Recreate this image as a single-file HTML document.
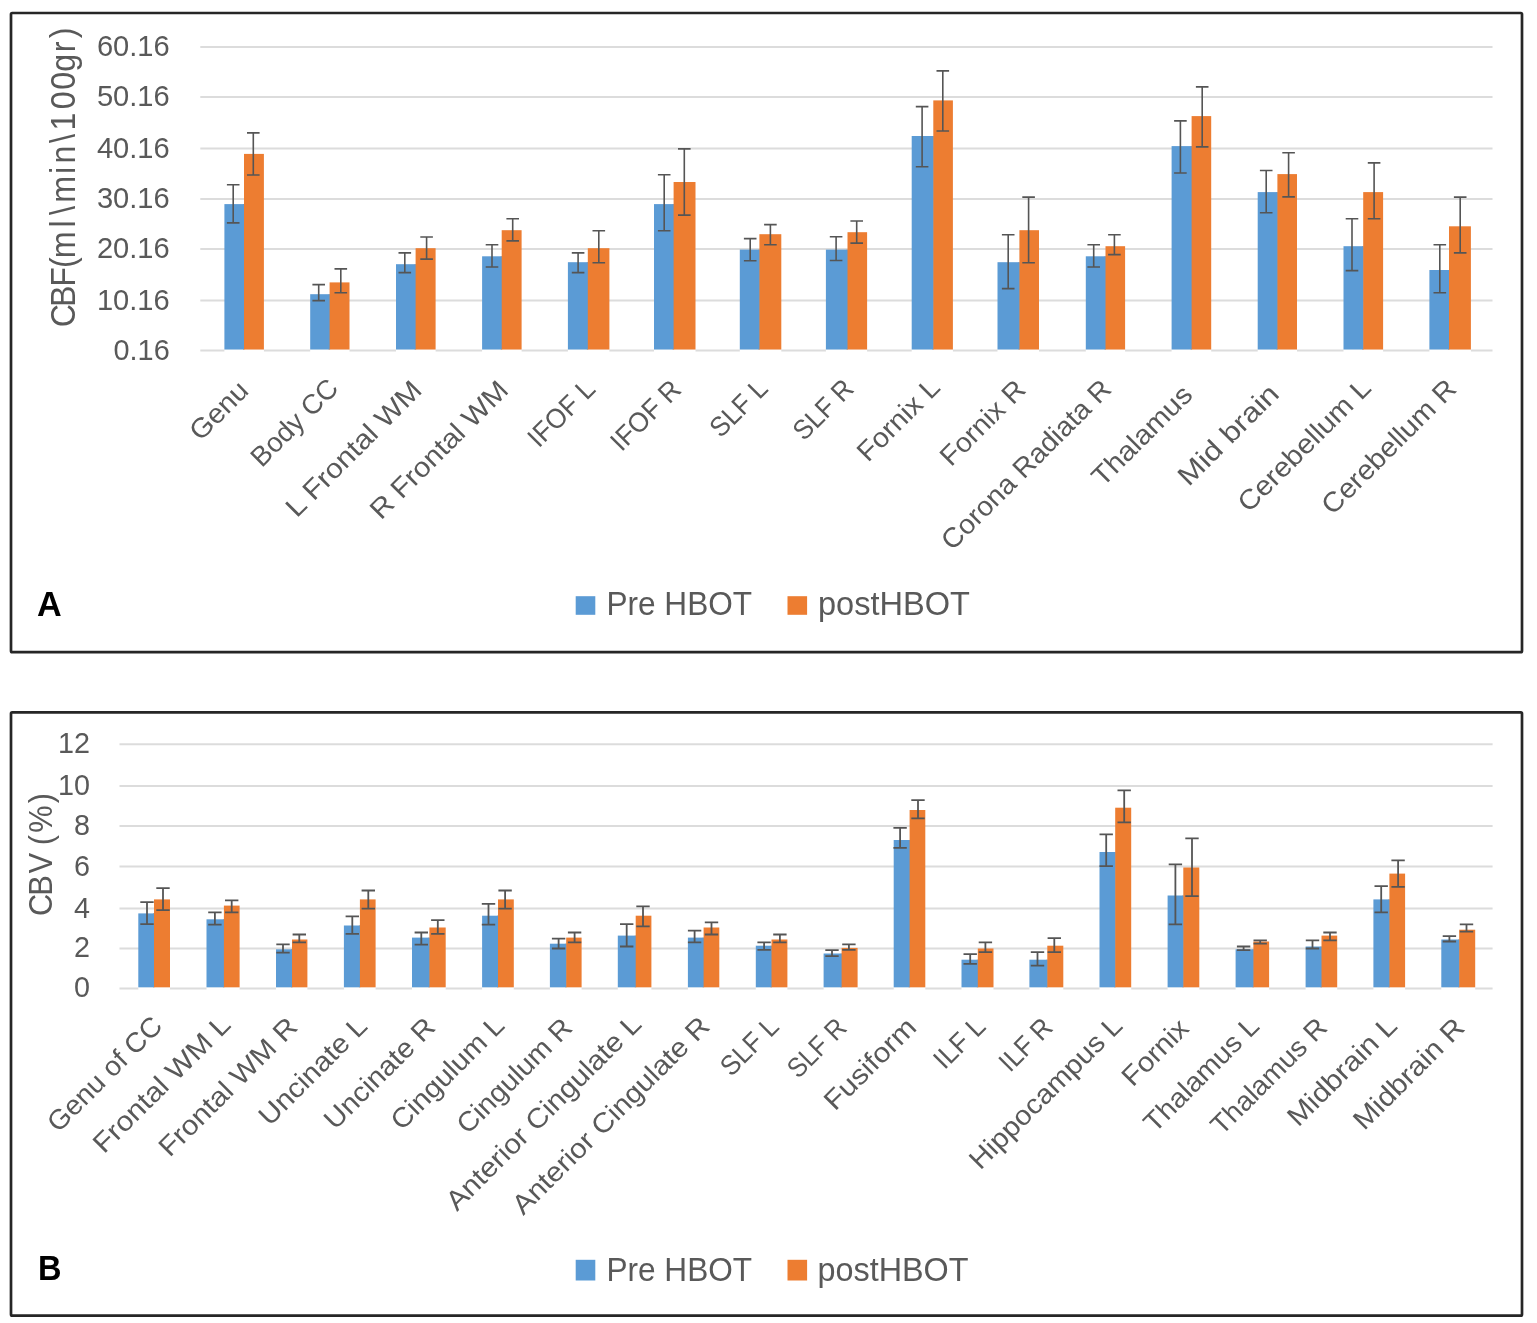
<!DOCTYPE html>
<html lang="en"><head><meta charset="utf-8"><title>CBF and CBV pre and post HBOT</title>
<style>
html,body{margin:0;padding:0;background:#fff;}
body{width:1537px;height:1323px;overflow:hidden;}
svg{display:block;}
text{font-family:'Liberation Sans', sans-serif;fill:#595959;}
.grid line{stroke:#DCDCDC;stroke-width:2.0;}
.ticks text{text-anchor:end;}
.b{fill:#5B9BD5;}.o{fill:#ED7D31;}
.err path{stroke:#555555;fill:none;}
.xl text{text-anchor:end;}
.frame{fill:none;stroke:#262626;stroke-width:2.7;stroke-linejoin:round;}
.panel{font-weight:bold;fill:#000;}
</style></head><body>
<svg width="1537" height="1323" viewBox="0 0 1537 1323">
<rect width="1537" height="1323" fill="#fff"/>
<g id="chartA" font-size="29.5">
<g class="grid">
<line x1="200.3" y1="47" x2="1492.5" y2="47"/>
<line x1="200.3" y1="97" x2="1492.5" y2="97"/>
<line x1="200.3" y1="148.5" x2="1492.5" y2="148.5"/>
<line x1="200.3" y1="199" x2="1492.5" y2="199"/>
<line x1="200.3" y1="249" x2="1492.5" y2="249"/>
<line x1="200.3" y1="300.5" x2="1492.5" y2="300.5"/>
<line x1="200.3" y1="350.5" x2="1492.5" y2="350.5"/>
</g>
<g class="ticks">
<text x="169.7" y="56" textLength="72.8" lengthAdjust="spacingAndGlyphs">60.16</text>
<text x="169.7" y="106" textLength="72.8" lengthAdjust="spacingAndGlyphs">50.16</text>
<text x="169.7" y="157.5" textLength="72.8" lengthAdjust="spacingAndGlyphs">40.16</text>
<text x="169.7" y="208" textLength="72.8" lengthAdjust="spacingAndGlyphs">30.16</text>
<text x="169.7" y="258" textLength="72.8" lengthAdjust="spacingAndGlyphs">20.16</text>
<text x="169.7" y="309.5" textLength="72.8" lengthAdjust="spacingAndGlyphs">10.16</text>
<text x="169.7" y="359.5" textLength="56.2" lengthAdjust="spacingAndGlyphs">0.16</text>
</g>
<g class="bars">
<rect fill="#fff" x="224.4" y="349.5" width="39.5" height="2.6"/>
<rect class="o" x="244" y="153.9" width="19.9" height="195.6"/>
<rect class="o" x="243" y="204.1" width="1.5" height="145.4"/>
<rect class="b" x="224.4" y="204.1" width="19.6" height="145.4"/>
<rect fill="#fff" x="310.2" y="349.5" width="39.3" height="2.6"/>
<rect class="o" x="329.6" y="282.4" width="19.9" height="67.1"/>
<rect class="o" x="328.6" y="294.2" width="1.5" height="55.3"/>
<rect class="b" x="310.2" y="294.2" width="19.4" height="55.3"/>
<rect fill="#fff" x="396" y="349.5" width="39.6" height="2.6"/>
<rect class="o" x="415.6" y="248.2" width="20" height="101.3"/>
<rect class="o" x="414.6" y="264.2" width="1.5" height="85.3"/>
<rect class="b" x="396" y="264.2" width="19.6" height="85.3"/>
<rect fill="#fff" x="482.1" y="349.5" width="39.5" height="2.6"/>
<rect class="o" x="501.7" y="230.2" width="19.9" height="119.3"/>
<rect class="o" x="500.7" y="256.3" width="1.5" height="93.2"/>
<rect class="b" x="482.1" y="256.3" width="19.6" height="93.2"/>
<rect fill="#fff" x="567.9" y="349.5" width="41.5" height="2.6"/>
<rect class="o" x="587.8" y="248.2" width="21.6" height="101.3"/>
<rect class="o" x="586.8" y="262.2" width="1.5" height="87.3"/>
<rect class="b" x="567.9" y="262.2" width="19.9" height="87.3"/>
<rect fill="#fff" x="654" y="349.5" width="41.5" height="2.6"/>
<rect class="o" x="673.6" y="182" width="21.9" height="167.5"/>
<rect class="o" x="672.6" y="204.1" width="1.5" height="145.4"/>
<rect class="b" x="654" y="204.1" width="19.6" height="145.4"/>
<rect fill="#fff" x="739.8" y="349.5" width="41.5" height="2.6"/>
<rect class="o" x="759.4" y="234.2" width="21.9" height="115.3"/>
<rect class="o" x="758.4" y="249.6" width="1.5" height="99.9"/>
<rect class="b" x="739.8" y="249.6" width="19.6" height="99.9"/>
<rect fill="#fff" x="825.9" y="349.5" width="41.2" height="2.6"/>
<rect class="o" x="847.5" y="232.2" width="19.6" height="117.3"/>
<rect class="o" x="846.5" y="249.6" width="1.5" height="99.9"/>
<rect class="b" x="825.9" y="249.6" width="21.6" height="99.9"/>
<rect fill="#fff" x="911.7" y="349.5" width="41.2" height="2.6"/>
<rect class="o" x="933.3" y="100.4" width="19.6" height="249.1"/>
<rect class="o" x="932.3" y="136" width="1.5" height="213.5"/>
<rect class="b" x="911.7" y="136" width="21.6" height="213.5"/>
<rect fill="#fff" x="997.5" y="349.5" width="41.5" height="2.6"/>
<rect class="o" x="1019.4" y="230.2" width="19.6" height="119.3"/>
<rect class="o" x="1018.4" y="262.2" width="1.5" height="87.3"/>
<rect class="b" x="997.5" y="262.2" width="21.9" height="87.3"/>
<rect fill="#fff" x="1085.8" y="349.5" width="39.3" height="2.6"/>
<rect class="o" x="1105.5" y="246.2" width="19.6" height="103.3"/>
<rect class="o" x="1104.5" y="256.3" width="1.5" height="93.2"/>
<rect class="b" x="1085.8" y="256.3" width="19.7" height="93.2"/>
<rect fill="#fff" x="1171.6" y="349.5" width="39.6" height="2.6"/>
<rect class="o" x="1191.6" y="116.1" width="19.6" height="233.4"/>
<rect class="o" x="1190.6" y="146.1" width="1.5" height="203.4"/>
<rect class="b" x="1171.6" y="146.1" width="20" height="203.4"/>
<rect fill="#fff" x="1257.7" y="349.5" width="39.3" height="2.6"/>
<rect class="o" x="1277.4" y="174.1" width="19.6" height="175.4"/>
<rect class="o" x="1276.4" y="192.1" width="1.5" height="157.4"/>
<rect class="b" x="1257.7" y="192.1" width="19.7" height="157.4"/>
<rect fill="#fff" x="1343.5" y="349.5" width="39.6" height="2.6"/>
<rect class="o" x="1363.2" y="192.1" width="19.9" height="157.4"/>
<rect class="o" x="1362.2" y="246.2" width="1.5" height="103.3"/>
<rect class="b" x="1343.5" y="246.2" width="19.7" height="103.3"/>
<rect fill="#fff" x="1429.4" y="349.5" width="41.5" height="2.6"/>
<rect class="o" x="1449" y="226.3" width="21.9" height="123.2"/>
<rect class="o" x="1448" y="270" width="1.5" height="79.5"/>
<rect class="b" x="1429.4" y="270" width="19.6" height="79.5"/>
</g>
<g class="err" stroke-width="1.6">
<path d="M226.9 184.8H239.5M233.2 184.8V222.9M226.9 222.9H239.5"/>
<path d="M247 132.9H259.6M253.3 132.9V175M247 175H259.6"/>
<path d="M312.4 284.6H325M318.7 284.6V300.6M312.4 300.6H325"/>
<path d="M334.5 268.9H347.1M340.8 268.9V292.8M334.5 292.8H347.1"/>
<path d="M398.5 252.9H411.1M404.8 252.9V272.6M398.5 272.6H411.1"/>
<path d="M420.3 237H432.9M426.6 237V259.1M420.3 259.1H432.9"/>
<path d="M485.7 244.8H498.3M492 244.8V267M485.7 267H498.3"/>
<path d="M506.4 218.7H519M512.7 218.7V240.9M506.4 240.9H519"/>
<path d="M571.8 252.9H584.4M578.1 252.9V272.6M571.8 272.6H584.4"/>
<path d="M592.5 230.8H605.1M598.8 230.8V262.8M592.5 262.8H605.1"/>
<path d="M657.9 174.7H670.5M664.2 174.7V230.8M657.9 230.8H670.5"/>
<path d="M678 148.9H690.6M684.3 148.9V215.1M678 215.1H690.6"/>
<path d="M743.9 238.6H756.5M750.2 238.6V260.8M743.9 260.8H756.5"/>
<path d="M764.1 224.6H776.7M770.4 224.6V244.8M764.1 244.8H776.7"/>
<path d="M829.8 236.7H842.4M836.1 236.7V260.5M829.8 260.5H842.4"/>
<path d="M850.4 221H863M856.7 221V243.1M850.4 243.1H863"/>
<path d="M915.8 106.6H928.4M922.1 106.6V166.8M915.8 166.8H928.4"/>
<path d="M936.5 70.9H949.1M942.8 70.9V131M936.5 131H949.1"/>
<path d="M1001.9 234.7H1014.5M1008.2 234.7V288.6M1001.9 288.6H1014.5"/>
<path d="M1022.3 197.1H1034.9M1028.6 197.1V262.8M1022.3 262.8H1034.9"/>
<path d="M1087.4 244.8H1100M1093.7 244.8V267M1087.4 267H1100"/>
<path d="M1108.1 234.7H1120.7M1114.4 234.7V254.6M1108.1 254.6H1120.7"/>
<path d="M1174.1 120.9H1186.7M1180.4 120.9V173M1174.1 173H1186.7"/>
<path d="M1195.9 86.9H1208.5M1202.2 86.9V146.9M1195.9 146.9H1208.5"/>
<path d="M1259.9 170.5H1272.5M1266.2 170.5V212.8M1259.9 212.8H1272.5"/>
<path d="M1282.3 152.8H1294.9M1288.6 152.8V196.9M1282.3 196.9H1294.9"/>
<path d="M1345.7 218.7H1358.3M1352 218.7V270.6M1345.7 270.6H1358.3"/>
<path d="M1367.8 162.9H1380.4M1374.1 162.9V218.7M1367.8 218.7H1380.4"/>
<path d="M1433.5 244.8H1446.1M1439.8 244.8V292.8M1433.5 292.8H1446.1"/>
<path d="M1453.9 197.1H1466.5M1460.2 197.1V252.9M1453.9 252.9H1466.5"/>
</g>
<g class="xl" font-size="27.5">
<text transform="translate(250.2 392.25) rotate(-45)" textLength="70.46" lengthAdjust="spacingAndGlyphs">Genu</text>
<text transform="translate(339.95 389.85) rotate(-45)" textLength="110.75" lengthAdjust="spacingAndGlyphs">Body CC</text>
<text transform="translate(423.5 391.85) rotate(-45)" textLength="179.22" lengthAdjust="spacingAndGlyphs">L Frontal WM</text>
<text transform="translate(510.05 391.7) rotate(-45)" textLength="182.68" lengthAdjust="spacingAndGlyphs">R Frontal WM</text>
<text transform="translate(596.85 390.75) rotate(-45)" textLength="82.03" lengthAdjust="spacingAndGlyphs">IFOF L</text>
<text transform="translate(682.75 391.25) rotate(-45)" textLength="86.61" lengthAdjust="spacingAndGlyphs">IFOF R</text>
<text transform="translate(769.4 390.15) rotate(-45)" textLength="68.78" lengthAdjust="spacingAndGlyphs">SLF L</text>
<text transform="translate(855.2 390.6) rotate(-45)" textLength="72.28" lengthAdjust="spacingAndGlyphs">SLF R</text>
<text transform="translate(941.65 389.15) rotate(-45)" textLength="104.29" lengthAdjust="spacingAndGlyphs">Fornix L</text>
<text transform="translate(1027.3 391.25) rotate(-45)" textLength="107.8" lengthAdjust="spacingAndGlyphs">Fornix R</text>
<text transform="translate(1112.95 390.75) rotate(-45)" textLength="227.2" lengthAdjust="spacingAndGlyphs">Corona Radiata R</text>
<text transform="translate(1194.05 396.45) rotate(-45)" textLength="129.24" lengthAdjust="spacingAndGlyphs">Thalamus</text>
<text transform="translate(1280.55 395.5) rotate(-45)" textLength="129.73" lengthAdjust="spacingAndGlyphs">Mid brain</text>
<text transform="translate(1372.6 389.65) rotate(-45)" textLength="175.23" lengthAdjust="spacingAndGlyphs">Cerebellum L</text>
<text transform="translate(1458 390.5) rotate(-45)" textLength="177.32" lengthAdjust="spacingAndGlyphs">Cerebellum R</text>
</g>
<text class="ytitle" font-size="35" text-anchor="middle" x="9.13 30.16 51.2 66.74 86.09 108.7 123.37 146.36 166.85 184.08 201.68 219.95 243.04 264.35 284.02 301.3 316.52" y="0" transform="translate(74.5 324) rotate(-90) scale(0.92 1.0)">CBF(ml\min\100gr)</text>
<g class="legend" font-size="33">
<rect class="b" x="575.7" y="596.2" width="19.6" height="18.6"/>
<text x="606.4" y="614.8" textLength="145.7" lengthAdjust="spacingAndGlyphs">Pre HBOT</text>
<rect class="o" x="787.5" y="596.2" width="19.6" height="18.6"/>
<text x="818" y="614.8" textLength="151.9" lengthAdjust="spacingAndGlyphs">postHBOT</text>
</g>
<text class="panel" x="37" y="615.8" font-size="34.2">A</text>
</g>
<g id="chartB" font-size="29.5">
<g class="grid">
<line x1="119.5" y1="744.2" x2="1492.6" y2="744.2"/>
<line x1="119.5" y1="786" x2="1492.6" y2="786"/>
<line x1="119.5" y1="826" x2="1492.6" y2="826"/>
<line x1="119.5" y1="866.6" x2="1492.6" y2="866.6"/>
<line x1="119.5" y1="908.6" x2="1492.6" y2="908.6"/>
<line x1="119.5" y1="948.5" x2="1492.6" y2="948.5"/>
<line x1="119.5" y1="988.4" x2="1492.6" y2="988.4"/>
</g>
<g class="ticks">
<text x="90" y="753.1" textLength="32" lengthAdjust="spacingAndGlyphs">12</text>
<text x="90" y="794.9" textLength="32" lengthAdjust="spacingAndGlyphs">10</text>
<text x="90" y="834.9" textLength="16" lengthAdjust="spacingAndGlyphs">8</text>
<text x="90" y="875.5" textLength="16" lengthAdjust="spacingAndGlyphs">6</text>
<text x="90" y="917.5" textLength="16" lengthAdjust="spacingAndGlyphs">4</text>
<text x="90" y="957.4" textLength="16" lengthAdjust="spacingAndGlyphs">2</text>
<text x="90" y="997.3" textLength="16" lengthAdjust="spacingAndGlyphs">0</text>
</g>
<g class="bars">
<rect fill="#fff" x="138.3" y="987.3" width="31.7" height="2.6"/>
<rect class="o" x="154" y="899.4" width="16" height="87.9"/>
<rect class="o" x="153" y="913.4" width="1.5" height="73.9"/>
<rect class="b" x="138.3" y="913.4" width="15.7" height="73.9"/>
<rect fill="#fff" x="206.5" y="987.3" width="33.1" height="2.6"/>
<rect class="o" x="223.9" y="905.6" width="15.7" height="81.7"/>
<rect class="o" x="222.9" y="919.3" width="1.5" height="68"/>
<rect class="b" x="206.5" y="919.3" width="17.4" height="68"/>
<rect fill="#fff" x="276" y="987.3" width="31.4" height="2.6"/>
<rect class="o" x="292" y="939.5" width="15.4" height="47.8"/>
<rect class="o" x="291" y="949.3" width="1.5" height="38"/>
<rect class="b" x="276" y="949.3" width="16" height="38"/>
<rect fill="#fff" x="343.9" y="987.3" width="31.7" height="2.6"/>
<rect class="o" x="359.9" y="899.4" width="15.7" height="87.9"/>
<rect class="o" x="358.9" y="925.5" width="1.5" height="61.8"/>
<rect class="b" x="343.9" y="925.5" width="16" height="61.8"/>
<rect fill="#fff" x="412" y="987.3" width="33.7" height="2.6"/>
<rect class="o" x="429.4" y="927.5" width="16.3" height="59.8"/>
<rect class="o" x="428.4" y="937.6" width="1.5" height="49.7"/>
<rect class="b" x="412" y="937.6" width="17.4" height="49.7"/>
<rect fill="#fff" x="482.1" y="987.3" width="31.7" height="2.6"/>
<rect class="o" x="498" y="899.4" width="15.8" height="87.9"/>
<rect class="o" x="497" y="915.7" width="1.5" height="71.6"/>
<rect class="b" x="482.1" y="915.7" width="15.9" height="71.6"/>
<rect fill="#fff" x="549.9" y="987.3" width="31.7" height="2.6"/>
<rect class="o" x="566.2" y="937.6" width="15.4" height="49.7"/>
<rect class="o" x="565.2" y="943.7" width="1.5" height="43.6"/>
<rect class="b" x="549.9" y="943.7" width="16.3" height="43.6"/>
<rect fill="#fff" x="617.8" y="987.3" width="33.6" height="2.6"/>
<rect class="o" x="635.7" y="915.7" width="15.7" height="71.6"/>
<rect class="o" x="634.7" y="935.6" width="1.5" height="51.7"/>
<rect class="b" x="617.8" y="935.6" width="17.9" height="51.7"/>
<rect fill="#fff" x="687.9" y="987.3" width="31.4" height="2.6"/>
<rect class="o" x="703.6" y="927.5" width="15.7" height="59.8"/>
<rect class="o" x="702.6" y="937.6" width="1.5" height="49.7"/>
<rect class="b" x="687.9" y="937.6" width="15.7" height="49.7"/>
<rect fill="#fff" x="755.8" y="987.3" width="31.6" height="2.6"/>
<rect class="o" x="771.5" y="939.5" width="15.9" height="47.8"/>
<rect class="o" x="770.5" y="945.7" width="1.5" height="41.6"/>
<rect class="b" x="755.8" y="945.7" width="15.7" height="41.6"/>
<rect fill="#fff" x="823.6" y="987.3" width="34" height="2.6"/>
<rect class="o" x="841.6" y="947.9" width="16" height="39.4"/>
<rect class="o" x="840.6" y="953.5" width="1.5" height="33.8"/>
<rect class="b" x="823.6" y="953.5" width="18" height="33.8"/>
<rect fill="#fff" x="893.7" y="987.3" width="31.6" height="2.6"/>
<rect class="o" x="909.6" y="810" width="15.7" height="177.3"/>
<rect class="o" x="908.6" y="840" width="1.5" height="147.3"/>
<rect class="b" x="893.7" y="840" width="15.9" height="147.3"/>
<rect fill="#fff" x="961.5" y="987.3" width="32" height="2.6"/>
<rect class="o" x="977.8" y="948.5" width="15.7" height="38.8"/>
<rect class="o" x="976.8" y="959.7" width="1.5" height="27.6"/>
<rect class="b" x="961.5" y="959.7" width="16.3" height="27.6"/>
<rect fill="#fff" x="1029.4" y="987.3" width="33.9" height="2.6"/>
<rect class="o" x="1047.3" y="945.7" width="16" height="41.6"/>
<rect class="o" x="1046.3" y="959.7" width="1.5" height="27.6"/>
<rect class="b" x="1029.4" y="959.7" width="17.9" height="27.6"/>
<rect fill="#fff" x="1099.5" y="987.3" width="31.7" height="2.6"/>
<rect class="o" x="1115.2" y="807.7" width="16" height="179.6"/>
<rect class="o" x="1114.2" y="852" width="1.5" height="135.3"/>
<rect class="b" x="1099.5" y="852" width="15.7" height="135.3"/>
<rect fill="#fff" x="1167.6" y="987.3" width="31.7" height="2.6"/>
<rect class="o" x="1183.3" y="867.5" width="16" height="119.8"/>
<rect class="o" x="1182.3" y="895.5" width="1.5" height="91.8"/>
<rect class="b" x="1167.6" y="895.5" width="15.7" height="91.8"/>
<rect fill="#fff" x="1235.6" y="987.3" width="33.5" height="2.6"/>
<rect class="o" x="1253.4" y="941.5" width="15.7" height="45.8"/>
<rect class="o" x="1252.4" y="949.3" width="1.5" height="38"/>
<rect class="b" x="1235.6" y="949.3" width="17.8" height="38"/>
<rect fill="#fff" x="1305.6" y="987.3" width="31.6" height="2.6"/>
<rect class="o" x="1321.5" y="935.6" width="15.7" height="51.7"/>
<rect class="o" x="1320.5" y="946.5" width="1.5" height="40.8"/>
<rect class="b" x="1305.6" y="946.5" width="15.9" height="40.8"/>
<rect fill="#fff" x="1373.4" y="987.3" width="31.7" height="2.6"/>
<rect class="o" x="1389.4" y="873.6" width="15.7" height="113.7"/>
<rect class="o" x="1388.4" y="899.4" width="1.5" height="87.9"/>
<rect class="b" x="1373.4" y="899.4" width="16" height="87.9"/>
<rect fill="#fff" x="1441.3" y="987.3" width="33.9" height="2.6"/>
<rect class="o" x="1459.2" y="929.7" width="16" height="57.6"/>
<rect class="o" x="1458.2" y="939.5" width="1.5" height="47.8"/>
<rect class="b" x="1441.3" y="939.5" width="17.9" height="47.8"/>
</g>
<g class="err" stroke-width="1.8">
<path d="M140.3 902.2H153.7M147 902.2V924.1M140.3 924.1H153.7"/>
<path d="M156.3 888.2H169.7M163 888.2V910.1M156.3 910.1H169.7"/>
<path d="M208.2 912.3H221.6M214.9 912.3V924.7M208.2 924.7H221.6"/>
<path d="M225 900.3H238.4M231.7 900.3V912.3M225 912.3H238.4"/>
<path d="M276.3 944.3H289.7M283 944.3V952.7M276.3 952.7H289.7"/>
<path d="M292.6 934.5H306M299.3 934.5V942.3M292.6 942.3H306"/>
<path d="M345.6 916.3H359M352.3 916.3V933.9M345.6 933.9H359"/>
<path d="M361.6 890.5H375M368.3 890.5V908.7M361.6 908.7H375"/>
<path d="M414.6 932.5H428M421.3 932.5V944.6M414.6 944.6H428"/>
<path d="M431.1 920.2H444.5M437.8 920.2V933.9M431.1 933.9H444.5"/>
<path d="M481.8 903.9H495.2M488.5 903.9V924.7M481.8 924.7H495.2"/>
<path d="M498.4 890.5H511.8M505.1 890.5V908.7M498.4 908.7H511.8"/>
<path d="M551.9 938.7H565.3M558.6 938.7V948.5M551.9 948.5H565.3"/>
<path d="M567.9 932.5H581.3M574.6 932.5V942.3M567.9 942.3H581.3"/>
<path d="M620 924.1H633.4M626.7 924.1V946.5M620 946.5H633.4"/>
<path d="M636.3 906.4H649.7M643 906.4V926.3M636.3 926.3H649.7"/>
<path d="M687.9 930.6H701.3M694.6 930.6V942.3M687.9 942.3H701.3"/>
<path d="M704.8 922.4H718.2M711.5 922.4V934.5M704.8 934.5H718.2"/>
<path d="M757.4 942.3H770.8M764.1 942.3V949.9M757.4 949.9H770.8"/>
<path d="M773.2 934.5H786.6M779.9 934.5V942.3M773.2 942.3H786.6"/>
<path d="M825.3 950.2H838.7M832 950.2V956.1M825.3 956.1H838.7"/>
<path d="M842.2 944.3H855.6M848.9 944.3V949.9M842.2 949.9H855.6"/>
<path d="M893.4 827.9H906.8M900.1 827.9V847.8M893.4 847.8H906.8"/>
<path d="M911.3 800.2H924.7M918 800.2V818.4M911.3 818.4H924.7"/>
<path d="M963.5 954.1H976.9M970.2 954.1V963.9M963.5 963.9H976.9"/>
<path d="M978.7 942.3H992.1M985.4 942.3V952.1M978.7 952.1H992.1"/>
<path d="M1030.8 952.1H1044.2M1037.5 952.1V965.6M1030.8 965.6H1044.2"/>
<path d="M1047.6 938.1H1061M1054.3 938.1V952.1M1047.6 952.1H1061"/>
<path d="M1099.5 834.4H1112.9M1106.2 834.4V866.1M1099.5 866.1H1112.9"/>
<path d="M1117.5 790.3H1130.9M1124.2 790.3V822.3M1117.5 822.3H1130.9"/>
<path d="M1168.7 864.4H1182.1M1175.4 864.4V924.4M1168.7 924.4H1182.1"/>
<path d="M1185.3 838.3H1198.7M1192 838.3V896.1M1185.3 896.1H1198.7"/>
<path d="M1236.9 946.5H1250.3M1243.6 946.5V950.2M1236.9 950.2H1250.3"/>
<path d="M1253.5 940.4H1266.9M1260.2 940.4V943.7M1253.5 943.7H1266.9"/>
<path d="M1305.8 940.4H1319.2M1312.5 940.4V948.5M1305.8 948.5H1319.2"/>
<path d="M1323.3 932.5H1336.7M1330 932.5V940.4M1323.3 940.4H1336.7"/>
<path d="M1374.5 886.2H1387.9M1381.2 886.2V912.3M1374.5 912.3H1387.9"/>
<path d="M1391.4 860.4H1404.8M1398.1 860.4V886.8M1391.4 886.8H1404.8"/>
<path d="M1442.7 936.2H1456.1M1449.4 936.2V941.5M1442.7 941.5H1456.1"/>
<path d="M1459.8 924.4H1473.2M1466.5 924.4V931.7M1459.8 931.7H1473.2"/>
</g>
<g class="xl" font-size="27.5">
<text transform="translate(164.05 1027.5) rotate(-45)" textLength="149.81" lengthAdjust="spacingAndGlyphs">Genu of CC</text>
<text transform="translate(232.25 1026.35) rotate(-45)" textLength="181.29" lengthAdjust="spacingAndGlyphs">Frontal WM L</text>
<text transform="translate(299.2 1028.7) rotate(-45)" textLength="183.03" lengthAdjust="spacingAndGlyphs">Frontal WM R</text>
<text transform="translate(368.9 1027.75) rotate(-45)" textLength="140.32" lengthAdjust="spacingAndGlyphs">Uncinate L</text>
<text transform="translate(436.95 1028.9) rotate(-45)" textLength="144.18" lengthAdjust="spacingAndGlyphs">Uncinate R</text>
<text transform="translate(506.05 1027.05) rotate(-45)" textLength="147.59" lengthAdjust="spacingAndGlyphs">Cingulum L</text>
<text transform="translate(573.95 1029.25) rotate(-45)" textLength="150.04" lengthAdjust="spacingAndGlyphs">Cingulum R</text>
<text transform="translate(643 1025.85) rotate(-45)" textLength="263.22" lengthAdjust="spacingAndGlyphs">Anterior Cingulate L</text>
<text transform="translate(711.3 1027.9) rotate(-45)" textLength="266.01" lengthAdjust="spacingAndGlyphs">Anterior Cingulate R</text>
<text transform="translate(780.4 1028.25) rotate(-45)" textLength="69.49" lengthAdjust="spacingAndGlyphs">SLF L</text>
<text transform="translate(848.3 1029.5) rotate(-45)" textLength="70.87" lengthAdjust="spacingAndGlyphs">SLF R</text>
<text transform="translate(917.95 1029) rotate(-45)" textLength="117.21" lengthAdjust="spacingAndGlyphs">Fusiform</text>
<text transform="translate(987.15 1028) rotate(-45)" textLength="60.2" lengthAdjust="spacingAndGlyphs">ILF L</text>
<text transform="translate(1054.15 1029.25) rotate(-45)" textLength="62.28" lengthAdjust="spacingAndGlyphs">ILF R</text>
<text transform="translate(1123.95 1027.25) rotate(-45)" textLength="203.1" lengthAdjust="spacingAndGlyphs">Hippocampus L</text>
<text transform="translate(1190.45 1030) rotate(-45)" textLength="81.71" lengthAdjust="spacingAndGlyphs">Fornix</text>
<text transform="translate(1260.85 1027.75) rotate(-45)" textLength="150.05" lengthAdjust="spacingAndGlyphs">Thalamus L</text>
<text transform="translate(1328.8 1029.25) rotate(-45)" textLength="151.43" lengthAdjust="spacingAndGlyphs">Thalamus R</text>
<text transform="translate(1398.6 1027.5) rotate(-45)" textLength="141.84" lengthAdjust="spacingAndGlyphs">Midbrain L</text>
<text transform="translate(1466.25 1029.25) rotate(-45)" textLength="144.28" lengthAdjust="spacingAndGlyphs">Midbrain R</text>
</g>
<text class="ytitle" font-size="33.5" text-anchor="middle" x="8.91 30.22 54.24 68.7 79.46 102.28 125.11" y="0" transform="translate(51.8 913.2) rotate(-90) scale(0.92 1.0)">CBV (%)</text>
<g class="legend" font-size="33">
<rect class="b" x="575.7" y="1259.8" width="19.6" height="20.7"/>
<text x="606.4" y="1280.5" textLength="145.7" lengthAdjust="spacingAndGlyphs">Pre HBOT</text>
<rect class="o" x="787.5" y="1259.8" width="19.6" height="20.7"/>
<text x="817.5" y="1280.5" textLength="151" lengthAdjust="spacingAndGlyphs">postHBOT</text>
</g>
<text class="panel" x="38" y="1279.9" font-size="34.2" textLength="23.5" lengthAdjust="spacingAndGlyphs">B</text>
</g>
<rect class="frame" rx="1.2" x="11" y="13" width="1511" height="639.1"/>
<rect class="frame" rx="1.2" x="11" y="712.3" width="1511" height="603.3"/>
</svg></body></html>
